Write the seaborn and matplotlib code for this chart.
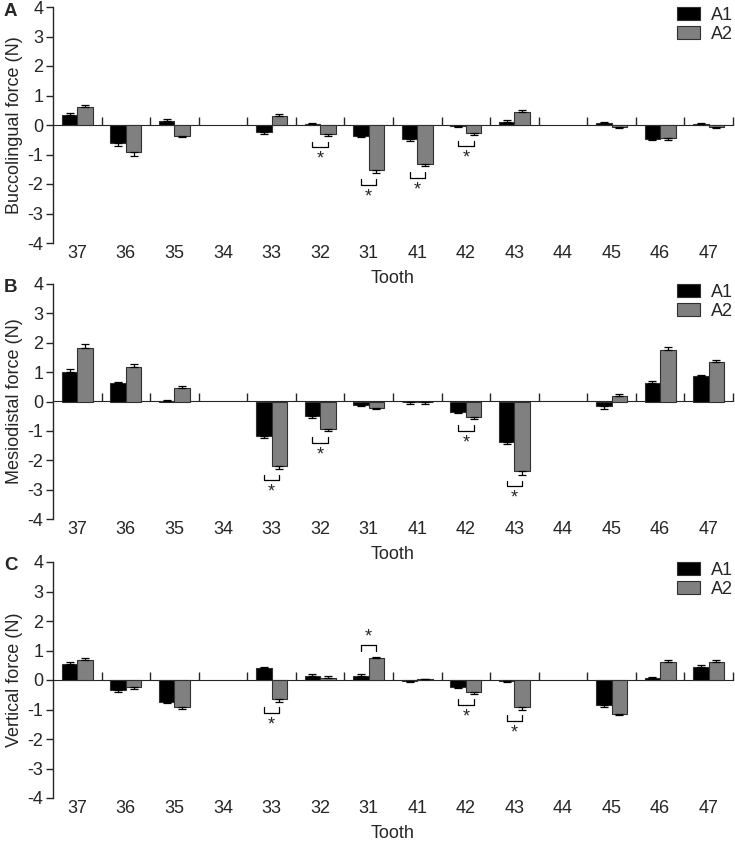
import numpy as np
import pandas as pd
import matplotlib
matplotlib.use("Agg")
import matplotlib.pyplot as plt
import seaborn as sns

nan = np.nan
teeth = ['37', '36', '35', '34', '33', '32', '31', '41', '42', '43', '44', '45', '46', '47']
groups = ['A1', 'A2']

# Panel A: buccolingual force
bl_a1 = [0.34, -0.62, 0.15, nan, -0.25, 0.02, -0.37, -0.49, -0.03, 0.10, nan, 0.07, -0.47, 0.02]
bl_a1_err = [0.05, 0.08, 0.07, nan, 0.07, 0.04, 0.05, 0.04, 0.04, 0.06, nan, 0.04, 0.05, 0.05]
bl_a2 = [0.62, -0.91, -0.37, nan, 0.31, -0.32, -1.51, -1.31, -0.28, 0.44, nan, -0.06, -0.45, -0.06]
bl_a2_err = [0.07, 0.13, 0.05, nan, 0.07, 0.05, 0.13, 0.08, 0.05, 0.08, nan, 0.04, 0.07, 0.05]
bl_sig = ['32', '31', '41', '42']

# Panel B: mesiodistal force
md_a1 = [1.00, 0.63, 0.01, nan, -1.16, -0.50, -0.12, -0.02, -0.35, -1.39, nan, -0.17, 0.62, 0.86]
md_a1_err = [0.09, 0.04, 0.05, nan, 0.09, 0.06, 0.04, 0.05, 0.04, 0.07, nan, 0.07, 0.08, 0.04]
md_a2 = [1.83, 1.19, 0.47, nan, -2.18, -0.95, -0.21, -0.02, -0.54, -2.37, nan, 0.18, 1.75, 1.34]
md_a2_err = [0.13, 0.10, 0.06, nan, 0.11, 0.07, 0.06, 0.05, 0.07, 0.12, nan, 0.06, 0.09, 0.08]
md_sig = ['33', '32', '42', '43']

# Panel C: vertical force
v_a1 = [0.55, -0.33, -0.73, nan, 0.39, 0.12, 0.15, -0.03, -0.23, -0.02, nan, -0.86, 0.08, 0.45]
v_a1_err = [0.05, 0.06, 0.05, nan, 0.05, 0.07, 0.07, 0.04, 0.04, 0.05, nan, 0.04, 0.02, 0.05]
v_a2 = [0.67, -0.24, -0.91, nan, -0.65, 0.06, 0.73, 0.02, -0.40, -0.91, nan, -1.14, 0.61, 0.61]
v_a2_err = [0.07, 0.07, 0.08, nan, 0.08, 0.08, 0.05, 0.03, 0.06, 0.09, nan, 0.05, 0.07, 0.07]
v_sig = ['33', '31', '42', '43']

panels = [
    ('A', 'Buccolingual force (N)', bl_a1, bl_a1_err, bl_a2, bl_a2_err, bl_sig),
    ('B', 'Mesiodistal force (N)', md_a1, md_a1_err, md_a2, md_a2_err, md_sig),
    ('C', 'Vertical force (N)', v_a1, v_a1_err, v_a2, v_a2_err, v_sig),
]
yticks = [-4, -3, -2, -1, 0, 1, 2, 3, 4]

sns.set_style("ticks")
plt.rcParams['font.family'] = ['Liberation Sans', 'DejaVu Sans']

W, H = 735, 841
fig = plt.figure(figsize=(W / 100, H / 100), dpi=100)
boxes = [(7, 243), (284, 519), (562, 798)]
left, right = 53, 733
bar_w = 0.64
colors = {'A1': '#000000', 'A2': '#808080'}
FS = 13

for (letter, ylabel, a1, a1e, a2, a2e, sig), (top, bot) in zip(panels, boxes):
    ax = fig.add_axes([left / W, 1 - bot / H, (right - left) / W, (bot - top) / H])
    df = pd.DataFrame({
        'tooth': teeth * 2,
        'group': ['A1'] * len(teeth) + ['A2'] * len(teeth),
        'force': list(a1) + list(a2),
    }).dropna()
    sns.barplot(data=df, x='tooth', y='force', hue='group', order=teeth,
                hue_order=groups, palette=colors, width=bar_w, gap=0,
                errorbar=None, edgecolor='#303030', linewidth=0.8, ax=ax)
    # one-sided error bars
    for j, (vals, errs) in enumerate([(a1, a1e), (a2, a2e)]):
        vals = np.array(vals, float)
        errs = np.array(errs, float)
        xs = np.arange(len(teeth)) + (j - 0.5) * bar_w / 2
        m = ~np.isnan(vals)
        lo = np.where(vals < 0, errs, 0)
        hi = np.where(vals >= 0, errs, 0)
        ax.errorbar(xs[m], vals[m], yerr=[lo[m], hi[m]], fmt='none',
                    ecolor='black', elinewidth=0.9, capsize=3, capthick=0.9, zorder=3)
    # significance brackets
    for t in sig:
        i = teeth.index(t)
        v1, e1, v2, e2 = a1[i], a1e[i], a2[i], a2e[i]
        ext1 = v1 + (e1 if v1 >= 0 else -e1)
        ext2 = v2 + (e2 if v2 >= 0 else -e2)
        x0, x1 = i - bar_w / 4, i + bar_w / 4
        main = v2 if abs(v2) >= abs(v1) else v1
        if main < 0:
            ext = min(ext1, ext2)
            yt = ext - 0.2
            yb = yt - 0.19
            ax.plot([x0, x0, x1, x1], [yt, yb, yb, yt], color='black', lw=0.9)
            ax.text(i, yb - 0.12, '*', ha='center', va='top', fontsize=13)
        else:
            ext = max(ext1, ext2)
            yb = ext + 0.2
            yt = yb + 0.19
            ax.plot([x0, x0, x1, x1], [yb, yt, yt, yb], color='black', lw=0.9)
            ax.text(i, yt + 0.0, '*', ha='center', va='bottom', fontsize=13)

    ax.set_xlim(-0.5, len(teeth) - 0.5)
    ax.set_ylim(-4, 4)
    ax.set_yticks(yticks)
    ax.set_yticklabels([str(v) for v in yticks])
    ax.tick_params(axis='y', direction='out', length=5, width=1, labelsize=FS, pad=2)
    ax.tick_params(axis='x', length=0, labelsize=FS, pad=1.5)
    for s in ['top', 'right', 'bottom']:
        ax.spines[s].set_visible(False)
    ax.spines['left'].set_linewidth(1)
    ax.set_xlabel('Tooth', fontsize=FS, labelpad=6)
    ax.set_ylabel(ylabel, fontsize=FS, labelpad=3)

    # zero line with category boundary ticks
    sec = ax.secondary_xaxis(0.5)
    sec.set_xticks(np.arange(len(teeth)) + 0.5)
    sec.set_xticklabels([])
    sec.tick_params(direction='out', length=6, width=1)
    sec.spines['bottom'].set_linewidth(1)

    sns.move_legend(ax, 'upper right', bbox_to_anchor=(1.0, 1.0), title=None,
                    frameon=False, fontsize=FS, borderpad=0, borderaxespad=0,
                    handlelength=1.3, handleheight=0.75, handletextpad=0.6,
                    labelspacing=0.1)

    fig.text(4 / W, 1 - (top + 4) / H, letter, fontsize=13.5, fontweight='bold',
             ha='left', va='center')

fig.savefig('out.png', dpi=100)
